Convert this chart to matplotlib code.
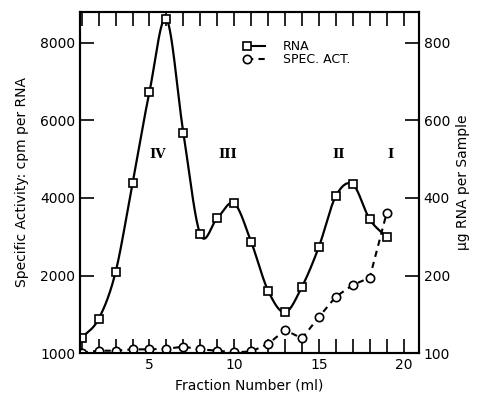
import numpy as np
import matplotlib
matplotlib.use("Agg")
import matplotlib.pyplot as plt

# fractions 1..19
fraction = list(range(1, 20))
# RNA, micrograms per sample (right axis, drawn on the left scale x10)
rna_ug = [39, 88, 209, 439, 674, 862, 568, 306, 348, 386, 287, 161, 105, 171, 274, 405, 435, 345, 299]
# specific activity, cpm per RNA (left axis)
spec_act = [10, 60, 60, 95, 95, 111, 163, 95, 60, 18, 40, 232, 594, 378, 929, 1453, 1755, 1944, 3613]

peak_names = ["IV", "III", "II", "I"]
peak_x = [5.5, 9.6, 16.15, 19.2]

left_ticks = [0, 2000, 4000, 6000, 8000]
left_labels = ["1000", "2000", "4000", "6000", "8000"]
right_ticks = [0, 200, 400, 600, 800]
right_labels = ["100", "200", "400", "600", "800"]


def smooth_curve(x, y, n=800):
    # Catmull-Rom style cubic through the points
    x = np.asarray(x, float)
    y = np.asarray(y, float)
    h = np.diff(x)
    m = np.gradient(y, x)
    xs = np.linspace(x[0], x[-1], n)
    idx = np.clip(np.searchsorted(x, xs) - 1, 0, len(x) - 2)
    t = (xs - x[idx]) / h[idx]
    h00 = 2 * t ** 3 - 3 * t ** 2 + 1
    h10 = t ** 3 - 2 * t ** 2 + t
    h01 = -2 * t ** 3 + 3 * t ** 2
    h11 = t ** 3 - t ** 2
    ys = h00 * y[idx] + h10 * h[idx] * m[idx] + h01 * y[idx + 1] + h11 * h[idx] * m[idx + 1]
    return xs, ys


plt.rcParams["font.family"] = ["DejaVu Sans"]
fig = plt.figure(figsize=(4.82, 3.98), dpi=100)
ax = fig.add_axes([0.166, 0.113, 0.703, 0.857])
ax2 = ax.twinx()

rna_scaled = [v * 10 for v in rna_ug]
xs, ys = smooth_curve(fraction, rna_scaled)
ax.plot(xs, ys, color="black", lw=1.6, zorder=2)
ax.plot(fraction, rna_scaled, ls="none", marker="s", ms=6, mfc="white",
        mec="black", mew=1.2, zorder=3)
ax.plot(fraction, spec_act, color="black", lw=1.5, ls=(0, (3, 2.5)),
        marker="o", ms=6, mfc="white", mec="black", mew=1.2, zorder=3)

for name, px in zip(peak_names, peak_x):
    ax.text(px, 5130, name, ha="center", va="center", fontsize=9.5,
            family="DejaVu Serif", fontweight="bold")

# legend drawn by hand
ax.plot([0.494, 0.545], [0.900, 0.900], transform=ax.transAxes, color="black", lw=1.5)
ax.plot([0.494], [0.900], transform=ax.transAxes, marker="s", ms=6, mfc="white", mec="black", mew=1.2)
ax.plot([0.494, 0.545], [0.862, 0.862], transform=ax.transAxes, color="black", lw=1.5, ls=(0, (3, 2.5)))
ax.plot([0.494], [0.862], transform=ax.transAxes, marker="o", ms=6, mfc="white", mec="black", mew=1.2)
ax.text(0.599, 0.900, "RNA", transform=ax.transAxes, va="center", fontsize=9)
ax.text(0.599, 0.862, "SPEC. ACT.", transform=ax.transAxes, va="center", fontsize=9)

ax.set_xlim(0.9, 20.9)
ax.set_ylim(0, 8800)
ax2.set_ylim(0, 880)
ax.set_xticks(range(1, 21), minor=True)
ax.set_xticks([5, 10, 15, 20])
ax.set_yticks(left_ticks)
ax.set_yticklabels(left_labels)
ax2.set_yticks(right_ticks)
ax2.set_yticklabels(right_labels)

ax.tick_params(axis="x", which="both", direction="in", top=True, length=10, width=1.2, labelsize=10)
ax.tick_params(axis="y", direction="in", length=10, width=1.2, labelsize=10)
ax2.tick_params(axis="y", direction="in", length=10, width=1.2, labelsize=10)
for a in (ax, ax2):
    for s in a.spines.values():
        s.set_linewidth(1.5)

ax.set_xlabel("Fraction Number (ml)", fontsize=10, labelpad=5)
ax.set_ylabel("Specific Activity: cpm per RNA", fontsize=10, labelpad=8)
ax2.set_ylabel("\u03bcg RNA per Sample", fontsize=10, labelpad=4)

fig.savefig("out.png", dpi=100)
